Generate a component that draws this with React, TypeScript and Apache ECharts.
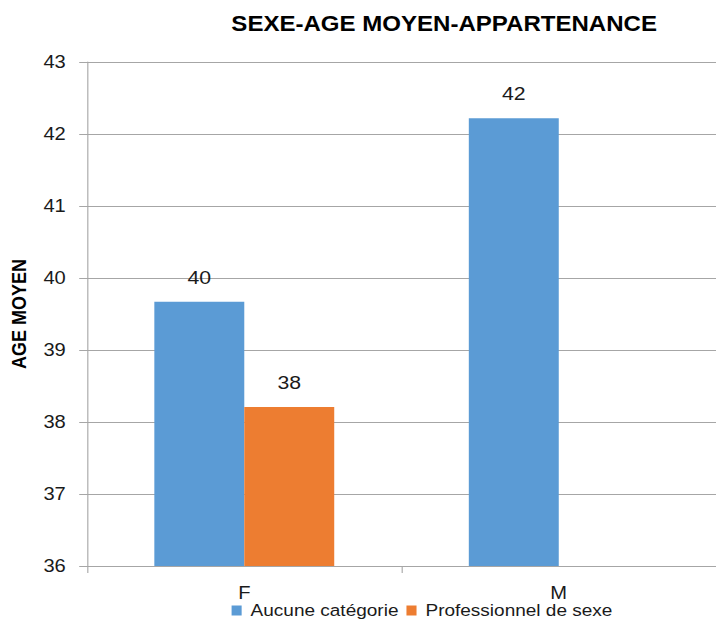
import React, { useEffect, useRef } from "react";
import * as echarts from "echarts";

const categories = ["F", "M"];
const aucuneValues = [39.67, 42.22];
const professionnelValues: (number | null)[] = [38.21, null];
const seriesNames = ["Aucune catégorie", "Professionnel de sexe"];
const titleText = "SEXE-AGE MOYEN-APPARTENANCE";
const yAxisName = "AGE MOYEN";

const BASE_W = 640;
const SX = 716 / BASE_W;

export default function App() {
  const ref = useRef<HTMLDivElement>(null);
  useEffect(() => {
    if (!ref.current) return;
    const chart = echarts.init(ref.current, undefined, { renderer: "svg" });
    const font = "'Liberation Sans', Arial, sans-serif";
    const labelCfg = {
      show: true,
      position: "top" as const,
      distance: 15,
      fontFamily: font,
      fontSize: 19,
      color: "#1a1a1a",
      formatter: (p: any) => (p.value == null ? "" : Math.round(p.value).toString()),
    };
    chart.setOption({
      animation: false,
      backgroundColor: "#ffffff",
      title: {
        text: titleText,
        left: 392,
        textAlign: "center",
        top: 7,
        textStyle: { fontFamily: font, fontSize: 21.5, fontWeight: "bold", color: "#000" },
      },
      legend: {
        left: 202,
        top: 597,
        itemWidth: 9,
        itemHeight: 10,
        itemGap: 7,
        icon: "rect",
        textStyle: { fontFamily: font, fontSize: 17, color: "#1a1a1a", padding: [0, 0, 0, 3] },
        data: seriesNames,
      },
      grid: {
        left: 77.8,
        right: 0,
        top: 62,
        bottom: 55,
        containLabel: false,
        outerBoundsMode: "none",
      },
      xAxis: {
        type: "category",
        data: categories,
        axisLine: { lineStyle: { color: "#a6a6a6", width: 1 } },
        axisTick: { show: true, length: 7, lineStyle: { color: "#a6a6a6" } },
        axisLabel: { fontFamily: font, fontSize: 18, color: "#1a1a1a", margin: 18 },
      },
      yAxis: {
        type: "value",
        min: 36,
        max: 43,
        interval: 1,
        name: yAxisName,
        nameLocation: "middle",
        nameGap: 52,
        nameTextStyle: { fontFamily: font, fontSize: 18, fontWeight: "bold", color: "#000" },
        axisLine: { show: true, lineStyle: { color: "#a6a6a6" } },
        axisTick: { show: true, length: 7, lineStyle: { color: "#a6a6a6" } },
        axisLabel: { fontFamily: font, fontSize: 18, color: "#1a1a1a", margin: 19 },
        splitLine: { lineStyle: { color: "#a6a6a6" } },
      },
      series: [
        {
          name: seriesNames[0],
          type: "bar",
          data: aucuneValues,
          barGap: "0%",
          barWidth: 80.4,
          itemStyle: { color: "#5b9bd5" },
          label: labelCfg,
        },
        {
          name: seriesNames[1],
          type: "bar",
          data: professionnelValues,
          barGap: "0%",
          barWidth: 80.4,
          itemStyle: { color: "#ed7d31" },
          label: labelCfg,
        },
      ],
    });
    return () => chart.dispose();
  }, []);
  return (
    <div style={{ position: "fixed", left: 0, top: 0, width: 716, height: 621, overflow: "hidden" }}>
      <div
        ref={ref}
        style={{
          width: BASE_W,
          height: 621,
          transform: `scaleX(${SX})`,
          transformOrigin: "0 0",
        }}
      />
    </div>
  );
}
